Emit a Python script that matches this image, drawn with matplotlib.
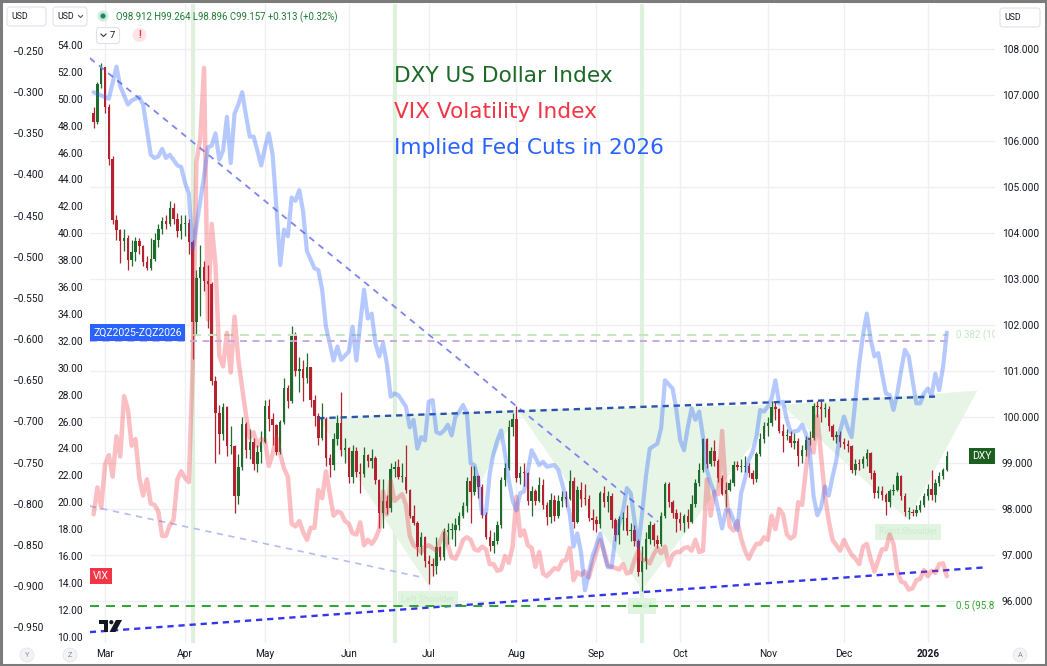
import numpy as np
import pandas as pd
import matplotlib
matplotlib.use("Agg")
import matplotlib.pyplot as plt
from matplotlib.patches import FancyBboxPatch, Circle, Polygon, Rectangle
from matplotlib.transforms import blended_transform_factory as blend
from matplotlib.ticker import FuncFormatter

plt.rcParams['font.family'] = ['Roboto', 'DejaVu Sans']
plt.rcParams['lines.scale_dashes'] = False

# ---------------- data ----------------
holidays = ['2025-04-18', '2025-12-25', '2026-01-01']

dxy_first_open = 106.62
dxy_close = [
    106.43, 107.24, 107.61,
    106.75, 105.61, 104.29, 104.08, 103.84, 103.90, 103.43, 103.60, 103.83, 103.72,
    103.38, 103.25, 103.44, 103.85, 104.09, 104.26, 104.20, 104.56, 104.31, 104.04, 104.21,
    104.23, 103.80, 102.07, 103.02, 103.26, 102.96, 102.89, 100.79, 100.10, 99.64,
    100.22, 99.38, 99.38, 98.28, 98.91, 99.85, 99.29, 99.47, 98.99, 99.24, 99.47,
    100.25, 99.96, 99.83, 99.24, 99.90, 100.64, 100.35, 101.79, 101.00, 101.04,
    100.86, 101.09, 100.38, 100.03, 99.56, 99.96, 99.12, 98.97, 99.53, 99.88, 99.29, 99.33,
    98.70, 99.27, 98.81, 98.76, 99.19, 99.04, 99.11, 98.64, 97.92, 98.19,
    98.03, 98.87, 98.91, 98.70, 98.71, 98.43, 97.86, 97.70, 97.17, 97.40, 96.88,
    96.82, 96.77, 97.17, 96.97, 97.51, 97.55, 97.55, 97.65, 97.85, 98.08,
    98.62, 98.38, 98.72, 98.48, 97.87, 97.40, 97.21, 97.32, 97.65, 98.63, 98.90, 99.78, 99.97,
    98.69, 98.79, 98.78, 98.18, 98.40, 98.18, 98.52, 98.09, 97.84, 98.21,
    97.85, 98.17, 98.27, 98.23, 98.62, 97.72, 98.43, 98.23, 98.22, 97.80, 97.77,
    97.68, 98.35, 98.15, 98.28, 97.77, 97.44, 97.79, 97.80, 97.53, 97.55,
    97.31, 96.63, 96.87, 97.35, 97.65, 97.33, 97.25, 97.86, 98.55, 98.15, 97.93, 97.78,
    97.70, 97.85, 97.72, 98.11, 98.58, 98.86, 99.53, 98.98, 99.27, 99.04,
    98.68, 98.34, 98.43, 98.58, 98.96, 98.93, 98.93, 98.95, 98.78, 98.66, 99.20, 99.53, 99.80,
    99.87, 100.22, 100.18, 99.71, 99.60, 99.60, 99.45, 99.49, 99.15, 99.29,
    99.51, 99.54, 100.25, 100.23, 100.18, 100.19, 99.80, 99.57, 99.62, 99.46,
    99.41, 99.37, 98.86, 98.99, 98.98, 99.09, 99.22, 98.78, 98.35, 98.40,
    98.30, 98.15, 98.40, 98.43, 98.72, 98.29, 97.94, 97.95, 97.92, 97.98, 98.10, 98.28,
    98.45, 98.30, 98.58, 98.72, 98.844, 99.157]
dxy_high = [
    106.75, 107.28, 107.70,
    107.62, 106.82, 105.68, 104.40, 104.10, 104.10, 103.96, 103.85, 103.92, 103.90,
    103.75, 103.50, 103.90, 104.00, 104.20, 104.35, 104.40, 104.70, 104.65, 104.45, 104.39,
    104.40, 104.30, 103.85, 103.20, 103.75, 103.40, 103.30, 102.95, 100.90, 100.27,
    100.30, 100.25, 99.80, 99.40, 99.20, 100.00, 99.90, 99.75, 99.55, 99.40, 99.70,
    100.38, 100.40, 100.10, 99.85, 99.95, 100.86, 100.70, 101.98, 101.85, 101.30,
    101.25, 101.40, 101.10, 100.48, 100.10, 100.30, 100.00, 99.20, 99.65, 100.05, 100.54, 99.55,
    99.35, 99.40, 99.35, 99.00, 99.35, 99.20, 99.30, 99.15, 98.65, 98.65,
    98.30, 99.00, 99.05, 99.10, 99.00, 99.40, 98.45, 98.10, 97.75, 97.50, 97.42,
    97.00, 96.95, 97.40, 97.20, 97.60, 97.70, 97.70, 97.80, 97.95, 98.15,
    98.70, 98.95, 98.95, 98.75, 98.55, 97.95, 97.55, 97.50, 97.75, 98.70, 99.00, 99.95, 100.10,
    100.25, 98.95, 99.00, 98.80, 98.50, 98.45, 98.70, 98.65, 98.15, 98.35,
    98.30, 98.30, 98.40, 98.40, 98.85, 98.70, 98.50, 98.60, 98.55, 98.30, 98.00,
    97.85, 98.40, 98.50, 98.40, 98.35, 97.80, 97.85, 97.95, 98.10, 97.70,
    97.65, 97.35, 97.20, 97.50, 97.75, 97.70, 97.45, 97.95, 98.60, 98.60, 98.20, 98.00,
    97.95, 97.90, 98.00, 98.30, 98.65, 99.00, 99.56, 99.55, 99.35, 99.50,
    99.10, 98.75, 98.60, 98.65, 99.05, 99.05, 99.10, 99.15, 99.00, 98.85, 99.25, 99.65, 99.90,
    100.00, 100.35, 100.36, 100.20, 99.85, 99.75, 99.70, 99.65, 99.55, 99.40,
    99.60, 99.70, 100.30, 100.35, 100.40, 100.30, 100.25, 99.85, 99.70, 99.70,
    99.55, 99.50, 99.40, 99.10, 99.10, 99.15, 99.30, 99.25, 98.85, 98.50,
    98.50, 98.35, 98.45, 98.55, 98.80, 98.75, 98.35, 98.05, 98.00, 98.10, 98.20, 98.35,
    98.55, 98.86, 98.65, 98.80, 98.90, 99.264]
dxy_low = [
    106.28, 106.38, 107.15,
    106.62, 105.48, 104.20, 103.85, 103.35, 103.62, 103.20, 103.28, 103.40, 103.55,
    103.28, 103.20, 103.20, 103.40, 103.70, 103.98, 104.10, 104.15, 104.20, 103.92, 103.88,
    103.95, 103.55, 101.26, 101.80, 102.20, 102.75, 101.95, 100.70, 99.01, 99.20,
    99.50, 99.16, 99.20, 97.92, 98.12, 98.85, 99.12, 99.10, 98.85, 98.80, 99.00,
    99.45, 99.70, 99.40, 99.17, 99.20, 99.85, 100.20, 100.30, 100.90, 100.55,
    100.35, 100.75, 100.23, 99.80, 99.40, 99.50, 98.95, 98.70, 98.85, 99.40, 99.15, 99.00,
    98.58, 98.58, 98.70, 98.35, 98.70, 98.92, 98.90, 98.55, 97.60, 97.60,
    97.90, 97.95, 98.70, 98.65, 98.60, 98.35, 97.80, 97.65, 96.98, 97.00, 96.75,
    96.38, 96.55, 96.60, 96.90, 96.90, 97.25, 97.35, 97.20, 97.55, 97.80,
    97.95, 97.70, 98.30, 98.25, 97.80, 97.35, 97.10, 97.05, 97.25, 97.60, 98.50, 98.85, 99.60,
    98.60, 98.55, 98.50, 98.10, 97.85, 98.10, 98.15, 98.00, 97.65, 97.70,
    97.75, 97.80, 98.05, 98.05, 98.20, 97.60, 97.70, 98.05, 98.10, 97.75, 97.55,
    97.50, 97.60, 98.05, 97.95, 97.60, 97.30, 97.25, 97.55, 97.45, 97.30,
    97.20, 96.55, 96.22, 96.70, 97.25, 97.20, 97.15, 97.20, 97.80, 98.05, 97.80, 97.50,
    97.55, 97.50, 97.60, 97.70, 98.05, 98.50, 98.80, 98.90, 98.95, 98.95,
    98.60, 98.30, 98.05, 98.40, 98.50, 98.85, 98.80, 98.80, 98.70, 98.55, 98.60, 99.15, 99.45,
    99.60, 99.80, 99.95, 99.65, 99.25, 99.50, 99.35, 99.30, 98.95, 99.00,
    99.15, 99.40, 99.50, 100.00, 99.90, 100.00, 99.70, 99.50, 99.45, 99.35,
    99.30, 99.25, 98.78, 98.75, 98.85, 98.90, 98.95, 98.65, 98.25, 98.25,
    98.20, 97.87, 98.05, 98.30, 98.40, 98.20, 97.85, 97.78, 97.85, 97.85, 97.95, 98.05,
    98.20, 98.20, 98.15, 98.50, 98.65, 98.84]

vix_close = [
    19.1, 21.1, 19.6,
    22.8, 23.5, 21.9, 24.9, 23.4, 27.9, 26.9, 24.2, 24.7, 21.8,
    20.5, 21.7, 19.9, 19.8, 19.3, 17.5, 17.5, 18.3, 18.7, 21.7, 22.3,
    21.8, 21.5, 30.0, 45.3, 47.0, 52.3, 33.6, 40.7, 37.6, 30.9,
    30.1, 32.6, 29.65, 33.8, 30.6, 28.5, 26.5, 24.8, 25.2, 24.2, 24.7,
    24.6, 22.7, 23.6, 24.8, 23.6, 22.5, 21.9, 18.4, 18.2, 18.6,
    17.8, 17.2, 18.1, 18.1, 20.9, 20.3, 22.3, None, 19.0, 19.3, 19.2, 18.6,
    18.4, 17.7, 17.6, 18.5, 16.8, 17.2, 16.9, 17.3, 18.0, 20.8,
    19.1, 21.6, 20.1, None, 20.6, 19.8, 17.5, 16.8, 16.6, 16.3, 16.7,
    16.8, 16.6, 16.4, None, 17.8, 16.8, 15.9, 15.8, 16.4, 17.2,
    17.4, 17.2, 16.5, 16.4, 16.7, 16.5, 15.4, 15.4, 14.9, 15.0, 16.0, 15.5, 16.7,
    20.4, 17.5, 17.9, 16.8, 16.6, 15.2, 16.3, 14.7, 14.5, 14.8,
    15.1, 15.0, 15.6, 15.7, 16.6, 14.2, 14.8, 14.6, 14.85, 14.4, 15.4,
    None, 17.2, 16.4, 15.3, 15.2, 15.1, 15.0, 15.4, 14.7, 14.8,
    15.7, 16.4, 15.7, 15.7, 15.45, 16.1, 16.6, 16.2, 16.7, 15.3, 16.1, 16.3,
    16.3, 16.6, 16.65, 16.4, 17.2, 16.3, 16.4, 21.7, 19.0, 20.8,
    20.6, 25.3, 20.8, 18.2, 17.9, 18.6, 17.3, 16.4, 15.8, 16.4, 16.9, 16.9, 17.4,
    17.2, 19.0, 18.0, 19.5, 19.1, 17.6, 17.3, 17.5, 20.0, 19.8,
    22.4, 24.7, 23.7, 26.4, 23.4, 20.5, 18.6, 17.2, None, 16.4,
    17.2, 16.6, 16.1, 15.8, 15.4, 16.7, 16.9, 15.8, 14.85, 15.7,
    16.5, 16.5, 17.6, 16.9, 14.9, 14.1, 14.0, 13.5, 13.6, 14.2, 14.3, 14.95,
    14.5, 14.9, 14.75, 15.4, 15.45, 14.5]

# implied cuts spread (ZQZ2025-ZQZ2026): (bar, value) vertices
fed_points = [
    (0, -0.300), (2, -0.304), (4, -0.308), (6, -0.269), (7, -0.293), (9, -0.315), (10, -0.310),
    (12, -0.306), (13, -0.315), (15, -0.376), (16, -0.380), (17, -0.378), (18, -0.369),
    (19, -0.380), (20, -0.376), (22, -0.389), (23, -0.391), (24, -0.410), (25, -0.423),
    (26, -0.491), (27, -0.462), (29, -0.402), (30, -0.367), (31, -0.365), (32, -0.350),
    (33, -0.382), (34, -0.371), (35, -0.330), (36, -0.386), (37, -0.326), (38, -0.315),
    (39, -0.300), (40, -0.328), (41, -0.354), (42, -0.354), (43, -0.371), (44, -0.389),
    (45, -0.367), (46, -0.350), (47, -0.376), (48, -0.440), (49, -0.510), (50, -0.467),
    (51, -0.475), (52, -0.428), (53, -0.432), (54, -0.419), (55, -0.445), (56, -0.493),
    (58, -0.514), (59, -0.516), (60, -0.540), (61, -0.585), (63, -0.626), (64, -0.609),
    (65, -0.625), (67, -0.615), (68, -0.585), (69, -0.626), (70, -0.581), (71, -0.540),
    (72, -0.575), (73, -0.569), (74, -0.605), (75, -0.621), (76, -0.605), (77, -0.630),
    (78, -0.670), (79, -0.666), (80, -0.668), (82, -0.682), (83, -0.707), (84, -0.698),
    (85, -0.733), (86, -0.719), (87, -0.723), (88, -0.676), (89, -0.674), (90, -0.713),
    (91, -0.715), (92, -0.711), (93, -0.704), (94, -0.717), (95, -0.694), (96, -0.688),
    (97, -0.680), (98, -0.690), (99, -0.751), (100, -0.753), (101, -0.771), (102, -0.812),
    (103, -0.812), (104, -0.763), (105, -0.739), (106, -0.723), (107, -0.711), (108, -0.739),
    (109, -0.771), (110, -0.796), (111, -0.808), (112, -0.787), (113, -0.785), (114, -0.760),
    (115, -0.735), (117, -0.753), (118, -0.749), (119, -0.755), (121, -0.753), (122, -0.759),
    (123, -0.775), (125, -0.812), (126, -0.852), (127, -0.836), (128, -0.860), (129, -0.905),
    (130, -0.885), (131, -0.864), (133, -0.836), (134, -0.860), (135, -0.877), (136, -0.877),
    (137, -0.840), (139, -0.808), (140, -0.781), (141, -0.787), (142, -0.820), (143, -0.852),
    (144, -0.812), (145, -0.767), (146, -0.733), (148, -0.727), (149, -0.708), (150, -0.650),
    (152, -0.660), (153, -0.686), (154, -0.723), (155, -0.735), (156, -0.707), (157, -0.684),
    (158, -0.698), (159, -0.688), (160, -0.719), (161, -0.759), (162, -0.775), (163, -0.787),
    (164, -0.808), (165, -0.830), (166, -0.808), (167, -0.808), (168, -0.820), (169, -0.832),
    (170, -0.787), (171, -0.770), (172, -0.747), (173, -0.737), (174, -0.719), (175, -0.686),
    (176, -0.688), (177, -0.682), (178, -0.672), (179, -0.650), (180, -0.678), (181, -0.676),
    (182, -0.698), (183, -0.713), (185, -0.711), (186, -0.704), (187, -0.715), (188, -0.735),
    (189, -0.790), (190, -0.814), (191, -0.804), (192, -0.779), (193, -0.790), (194, -0.767),
    (195, -0.747), (196, -0.711), (197, -0.694), (198, -0.708), (199, -0.719), (200, -0.674),
    (201, -0.630), (202, -0.595), (203, -0.569), (204, -0.600), (205, -0.621), (206, -0.617),
    (207, -0.642), (208, -0.666), (209, -0.668), (210, -0.686), (211, -0.666), (212, -0.638),
    (213, -0.613), (214, -0.621), (215, -0.650), (216, -0.678), (217, -0.678), (218, -0.666),
    (219, -0.660), (220, -0.668), (221, -0.642), (222, -0.662), (223, -0.634), (224, -0.592)]
fed_price_line = -0.602

# drawings (bar index, DXY level)
event_bars = [26, 79, 144]
hs_points = [(59.0, 99.98), (87.8, 96.35), (111.4, 100.16), (144.0, 96.25),
             (180.7, 100.27), (213.8, 97.77), (232.0, 100.58)]
hs_labels = ['Left Shoulder', 'Head', 'Right Shoulder']
trend_upper = [(-1.0, 107.81), (148.2, 97.73)]
trend_lower_left = [(-1.0, 98.07), (85.7, 96.53)]
trend_support = [(-1.0, 95.33), (234.5, 96.74)]
neckline = [(59.0, 99.98), (220.9, 100.45)]
fib_price = [101.79, 95.89]
fib_text = ['0.382 (10', '0.5 (95.8']   # as far as the pane edge lets them show
fib_start = [25.8, -1.0]
fib_end = 224.0

# ---------------- derived ----------------
dates = pd.bdate_range('2025-02-26', '2026-01-09')
dates = dates[~dates.isin(pd.to_datetime(holidays))]
n = len(dates)
assert n == len(dxy_close) == len(dxy_high) == len(dxy_low) == len(vix_close), \
    (n, len(dxy_close), len(dxy_high), len(dxy_low), len(vix_close))
xs = np.arange(n)
close = np.array(dxy_close)
opn = np.r_[dxy_first_open, close[:-1]]
high = np.array(dxy_high)
low = np.array(dxy_low)
vix = np.array([np.nan if v is None else v for v in vix_close], dtype=float)

month_start = [i for i in range(1, n) if dates[i].month != dates[i - 1].month]
month_lab = ['2026' if dates[i].year == 2026 else dates[i].strftime('%b') for i in month_start]

GREEN, RED = '#1e6b2c', '#b5222f'
GRID = '#eeeff2'
TXT = '#131722'

W, H = 1047, 666
fig = plt.figure(figsize=(W / 100, H / 100), dpi=100)
fig.patch.set_facecolor('white')
L, R, T, B = 90, 995, 4, 643
ax = fig.add_axes([L / W, 1 - B / H, (R - L) / W, (B - T) / H])
axv = ax.twinx()
axf = ax.twinx()

ax.set_xlim(-0.945, 236.65)
ax.set_ylim(95.093, 108.985)
axv.set_ylim(9.532, 57.049)
axf.set_ylim(-0.9691, -0.1929)
for a in (ax, axv, axf):
    for s in a.spines.values():
        s.set_visible(False)

# axes / ticks
ax.yaxis.tick_right()
ax.set_yticks(np.arange(96, 109))
ax.yaxis.set_major_formatter(FuncFormatter(lambda v, p: f'{v:.3f}'))
ax.tick_params(axis='y', length=0, pad=5, labelsize=7.3, labelcolor=TXT)
axv.yaxis.tick_left()
axv.set_yticks(np.arange(10, 55, 2))
axv.yaxis.set_major_formatter(FuncFormatter(lambda v, p: f'{v:.2f}'))
axv.tick_params(axis='y', length=0, pad=5, labelsize=7.3, labelcolor=TXT)
axf.yaxis.tick_left()
axf.set_yticks(np.round(np.arange(-0.95, -0.24, 0.05), 3))
axf.yaxis.set_major_formatter(FuncFormatter(lambda v, p: f'{v:.3f}'.replace('-', '\u2212')))
axf.tick_params(axis='y', length=0, pad=33.8, labelsize=7.3, labelcolor=TXT)

ax.set_xticks(month_start)
ax.set_xticklabels(month_lab)
ax.tick_params(axis='x', length=0, pad=4.5, labelsize=7.3, labelcolor=TXT)
for t in ax.get_xticklabels():
    if t.get_text() == '2026':
        t.set_fontweight('bold')

# grid
for v in range(96, 109):
    ax.axhline(v, color=GRID, lw=0.9, zorder=0.1)
for m in month_start:
    ax.axvline(m, color=GRID, lw=0.9, zorder=0.1)

# event highlights
for b in event_bars:
    ax.axvline(b, color='#ddf1dd', lw=3.0, zorder=0.3)

# inverse head & shoulders shading
for k in range(3):
    tri = hs_points[2 * k:2 * k + 3]
    ax.add_patch(Polygon(tri, closed=True, fc='#e6f5e6', ec='none', zorder=0.5))
for k, lab in enumerate(hs_labels):
    px, py = hs_points[2 * k + 1]
    ax.annotate(lab, xy=(px, py), xytext=(0, [-14, -16, -12][k]), textcoords='offset pixels',
                ha='center', va='center', fontsize=6.5, color='#cdeccd', zorder=0.6,
                bbox=dict(boxstyle='square,pad=0.4', fc='#e1f3e1', ec='none'))

# trend lines
ax.plot(*zip(*trend_upper), color='#7d84ef', lw=1.3, dashes=(4.5, 4), zorder=3)
ax.plot(*zip(*trend_lower_left), color='#b4bcf0', lw=1.2, dashes=(4.5, 4), zorder=3)
ax.plot(*zip(*trend_support), color='#3434ee', lw=1.7, dashes=(4.5, 3.5), zorder=3)
ax.plot(*zip(*neckline), color='#2c52ac', lw=1.7, dashes=(4.5, 3.5), zorder=3)

# fib levels
fib_col = ['#c3e6c3', '#2ca52c']
for p, s, c, txt in zip(fib_price, fib_start, fib_col, fib_text):
    ax.hlines(p, s, fib_end, color=c, lw=1.4, linestyles=(0, (6.5, 5)), zorder=3)
    ax.text(fib_end + 2.4, p, txt, color=c, fontsize=7, va='center',
            ha='left', clip_on=True, zorder=3)

# candles
col = np.where(close >= opn, GREEN, RED)
ax.vlines(xs, low, high, colors=col, lw=0.9, zorder=2)
body_lo = np.minimum(opn, close)
body_h = np.maximum(np.abs(close - opn), 0.02)
ax.bar(xs, body_h, bottom=body_lo, width=0.64, color=col, lw=0, zorder=2.1)

# VIX and Fed lines
ok = ~np.isnan(vix)
axv.plot(xs[ok], vix[ok], color='#f23645', alpha=0.32, lw=3.2, solid_joinstyle='round',
         solid_capstyle='round', zorder=2)
fb, fv = zip(*fed_points)
axf.plot(fb, fv, color='#2962ff', alpha=0.34, lw=3.0, solid_joinstyle='round',
         solid_capstyle='round', zorder=2)
axf.hlines(fed_price_line, -1, fib_end, color='#c7aadf', lw=1.4, linestyles=(0, (5, 4)), zorder=2)

# last-value labels
axf.text(3 / (R - L), fv[-1], 'ZQZ2025-ZQZ2026', transform=blend(axf.transAxes, axf.transData),
         ha='left', va='center', color='white', fontsize=7.5, zorder=6,
         bbox=dict(boxstyle='square,pad=0.3', fc='#2962ff', ec='none'))
axv.text(3 / (R - L), vix[ok][-1], 'VIX', transform=blend(axv.transAxes, axv.transData),
         ha='left', va='center', color='white', fontsize=7.5, zorder=6,
         bbox=dict(boxstyle='square,pad=0.3', fc='#f23645', ec='none'))
ax.text(1 - 3 / (R - L), close[-1], 'DXY', transform=blend(ax.transAxes, ax.transData),
        ha='right', va='center', color='white', fontsize=7.5, zorder=6,
        bbox=dict(boxstyle='square,pad=0.3', fc='#1b5e20', ec='none'))

# ---------------- overlay in pixel coordinates ----------------
ov = fig.add_axes([0, 0, 1, 1])
ov.set_zorder(10)
ov.patch.set_visible(False)
ov.set_xlim(0, W)
ov.set_ylim(H, 0)
ov.axis('off')

ov.text(394, 81.5, 'DXY US Dollar Index', family='DejaVu Sans', fontsize=15.6, color='#1d6a28')
ov.text(394, 118, 'VIX Volatility Index', family='DejaVu Sans', fontsize=15.6, color='#f23645')
ov.text(394, 153.5, 'Implied Fed Cuts in 2026', family='DejaVu Sans', fontsize=15.6, color='#2962ff')


def ui_box(x, y, w, h):
    ov.add_patch(FancyBboxPatch((x, y), w, h, boxstyle='round,pad=0,rounding_size=3',
                                fc='white', ec='#dfe2ea', lw=0.8))


ui_box(7, 7, 39, 19)
ov.text(11, 16.8, 'USD', fontsize=6.3, color=TXT, va='center')
ui_box(53, 7, 34, 19)
ov.text(57, 16.8, 'USD', fontsize=6.3, color=TXT, va='center')
ov.plot([78.5, 80.5, 82.5], [15.5, 17.5, 15.5], color='#555', lw=0.8)
ov.add_patch(Circle((103, 16), 5.5, fc='#cfeadf', ec='none'))
ov.add_patch(Circle((103, 16), 2.6, fc='#1a8a5a', ec='none'))
ov.text(115.5, 16.8, 'O98.912 H99.264 L98.896 C99.157 +0.313 (+0.32%)', fontsize=6.9,
        color='#1e7d34', va='center')
ui_box(96.5, 27.5, 23, 16)
ov.plot([101, 103.5, 106], [34, 36.5, 34], color='#333', lw=0.8)
ov.text(110, 35.8, '7', fontsize=6.8, color=TXT, va='center')
ov.add_patch(Circle((139.5, 35), 7, fc='#fde4e6', ec='none'))
ov.text(139.5, 35.5, '!', fontsize=7, color='#f23645', ha='center', va='center', weight='bold')
ui_box(1000, 8, 40, 19)
ov.text(1004, 17.8, 'USD', fontsize=6.3, color=TXT, va='center')

for cx, lab in [(27, 'Y'), (70, 'Z'), (1020, 'A')]:
    ov.add_patch(Circle((cx, 655), 7, fc='#f2f3f5', ec='#e4e6ea', lw=0.6))
    ov.text(cx, 655.5, lab, fontsize=5.3, color='#8a8e99', ha='center', va='center')

# TradingView logo mark
ov.add_patch(Polygon([(99, 620), (108, 620), (108, 632), (104, 632), (104, 624), (99, 624)],
                     fc=TXT, ec='none'))
ov.add_patch(Circle((111.3, 622.2), 2.1, fc=TXT, ec='none'))
ov.add_patch(Polygon([(116, 620), (122, 620), (115.5, 632), (109.5, 632)], fc=TXT, ec='none'))

ov.add_patch(Rectangle((1, 1), W - 2, H - 2, fill=False, ec='#7b7b7b', lw=2.2))

fig.savefig('out.png', dpi=100, facecolor='white')
